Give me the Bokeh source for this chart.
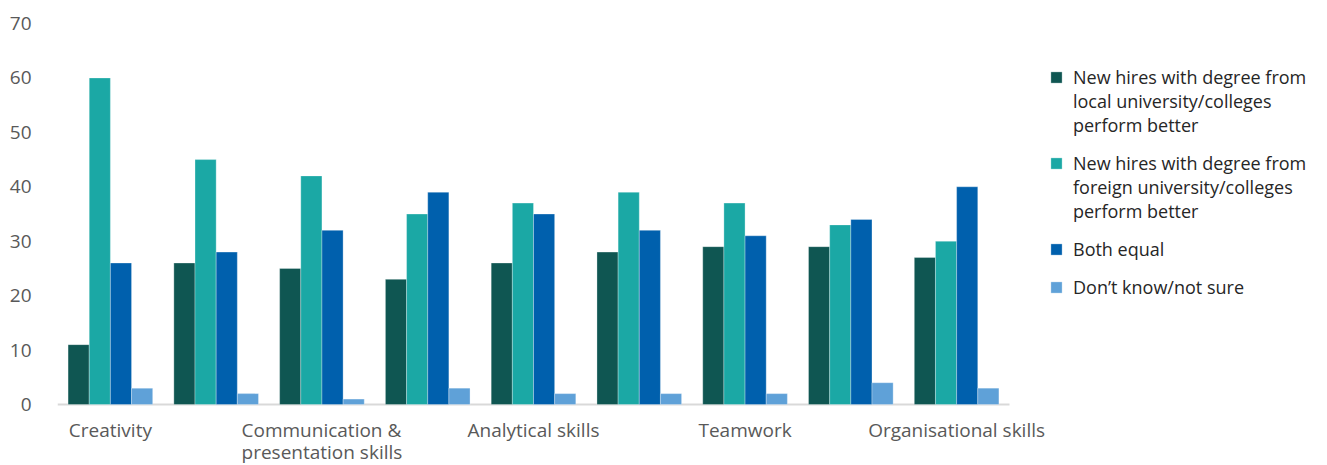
from bokeh.plotting import figure
from bokeh.models import ColumnDataSource, Legend, LegendItem, FixedTicker, Range1d, LabelSet
from bokeh.core.properties import value
from bokeh.embed import file_html
from bokeh.resources import INLINE

categories = ["Creativity", "Skill 2", "Communication &\npresentation skills", "Skill 4",
              "Analytical skills", "Skill 6", "Teamwork", "Skill 8", "Organisational skills"]
shown_labels = [True, False, True, False, True, False, True, False, True]

series_names = [
    ["New hires with degree from", "local university/colleges", "perform better"],
    ["New hires with degree from", "foreign university/colleges", "perform better"],
    ["Both equal"],
    ["Don\u2019t know/not sure"],
]
local_better = [11, 26, 25, 23, 26, 28, 29, 29, 27]
foreign_better = [60, 45, 42, 35, 37, 39, 37, 33, 30]
both_equal = [26, 28, 32, 39, 35, 32, 31, 34, 40]
dont_know = [3, 2, 1, 3, 2, 2, 2, 4, 3]
colors = ["#0F5652", "#1BA8A5", "#0060AD", "#5FA1D8"]
y_ticks = [0, 10, 20, 30, 40, 50, 60, 70]
y_max = 70

series = [local_better, foreign_better, both_equal, dont_know]
offsets = [-0.3, -0.1, 0.1, 0.3]
n = len(categories)
xs = list(range(1, n + 1))

# layout (pixels)
W, H = 1327, 465
left, top = 57, 23
plot_w, plot_h = 952, 381          # area occupied by the bars
frame_w, frame_h = W - left, H - top
x_start = 0.5
x_end = x_start + n * frame_w / plot_w
y_start = y_max - y_max * frame_h / plot_h

p = figure(width=W, height=H, output_backend="svg", toolbar_location=None,
           x_range=Range1d(x_start, x_end), y_range=Range1d(y_start, y_max),
           min_border_left=left, min_border_top=top, min_border_bottom=0, min_border_right=0)
p.outline_line_color = None
p.xgrid.visible = False
p.ygrid.visible = False
p.xaxis.visible = False

# category axis line
p.segment(x0=[0.5], x1=[n + 0.5], y0=[0], y1=[0], line_color="#D9D9D9", line_width=2)

renderers = []
for vals, off, col in zip(series, offsets, colors):
    src = ColumnDataSource(dict(x=[x + off for x in xs], top=vals))
    r = p.vbar(x="x", top="top", bottom=0, width=0.2, source=src, fill_color=col,
               line_color="white", line_width=0.6, line_alpha=0.5)
    renderers.append(r)

# invisible renderer used for continuation lines of legend labels
blank = p.vbar(x=[], top=[], width=0.2, fill_alpha=0, line_alpha=0)

items = []
for i, (r, lines) in enumerate(zip(renderers, series_names)):
    items.append(LegendItem(label=lines[0], renderers=[r]))
    for ln in lines[1:]:
        items.append(LegendItem(label=ln, renderers=[blank]))
    if i < len(renderers) - 1:
        items.append(LegendItem(label=" ", renderers=[blank]))

lab_x = [x for x, s in zip(xs, shown_labels) if s]
lab_t = [c for c, s in zip(categories, shown_labels) if s]
lab_src = ColumnDataSource(dict(x=lab_x, y=[0] * len(lab_x), text=lab_t))
labels = LabelSet(x="x", y="y", y_offset=-12, text="text", source=lab_src,
                  text_font=value("Open Sans"), text_font_size=value("19px"),
                  text_color="#595959", text_align="center", text_baseline="top",
                  text_line_height=0.86)
p.add_layout(labels)

p.yaxis.ticker = FixedTicker(ticks=y_ticks)
p.yaxis.axis_line_color = None
p.yaxis.major_tick_line_color = None
p.yaxis.minor_tick_line_color = None
p.yaxis.major_label_text_font = "Open Sans"
p.yaxis.major_label_text_font_size = "19px"
p.yaxis.major_label_text_color = "#595959"
p.yaxis.major_label_standoff = 20

legend = Legend(items=items, location=(992, 166), orientation="vertical",
                glyph_width=14, glyph_height=14, label_text_font="Open Sans",
                label_text_font_size="18px", label_text_color="#262626",
                label_height=10, spacing=0, padding=0, margin=0,
                border_line_color=None, background_fill_alpha=0, label_standoff=10)
p.add_layout(legend)

open("out.html", "w").write(file_html(p, INLINE))
